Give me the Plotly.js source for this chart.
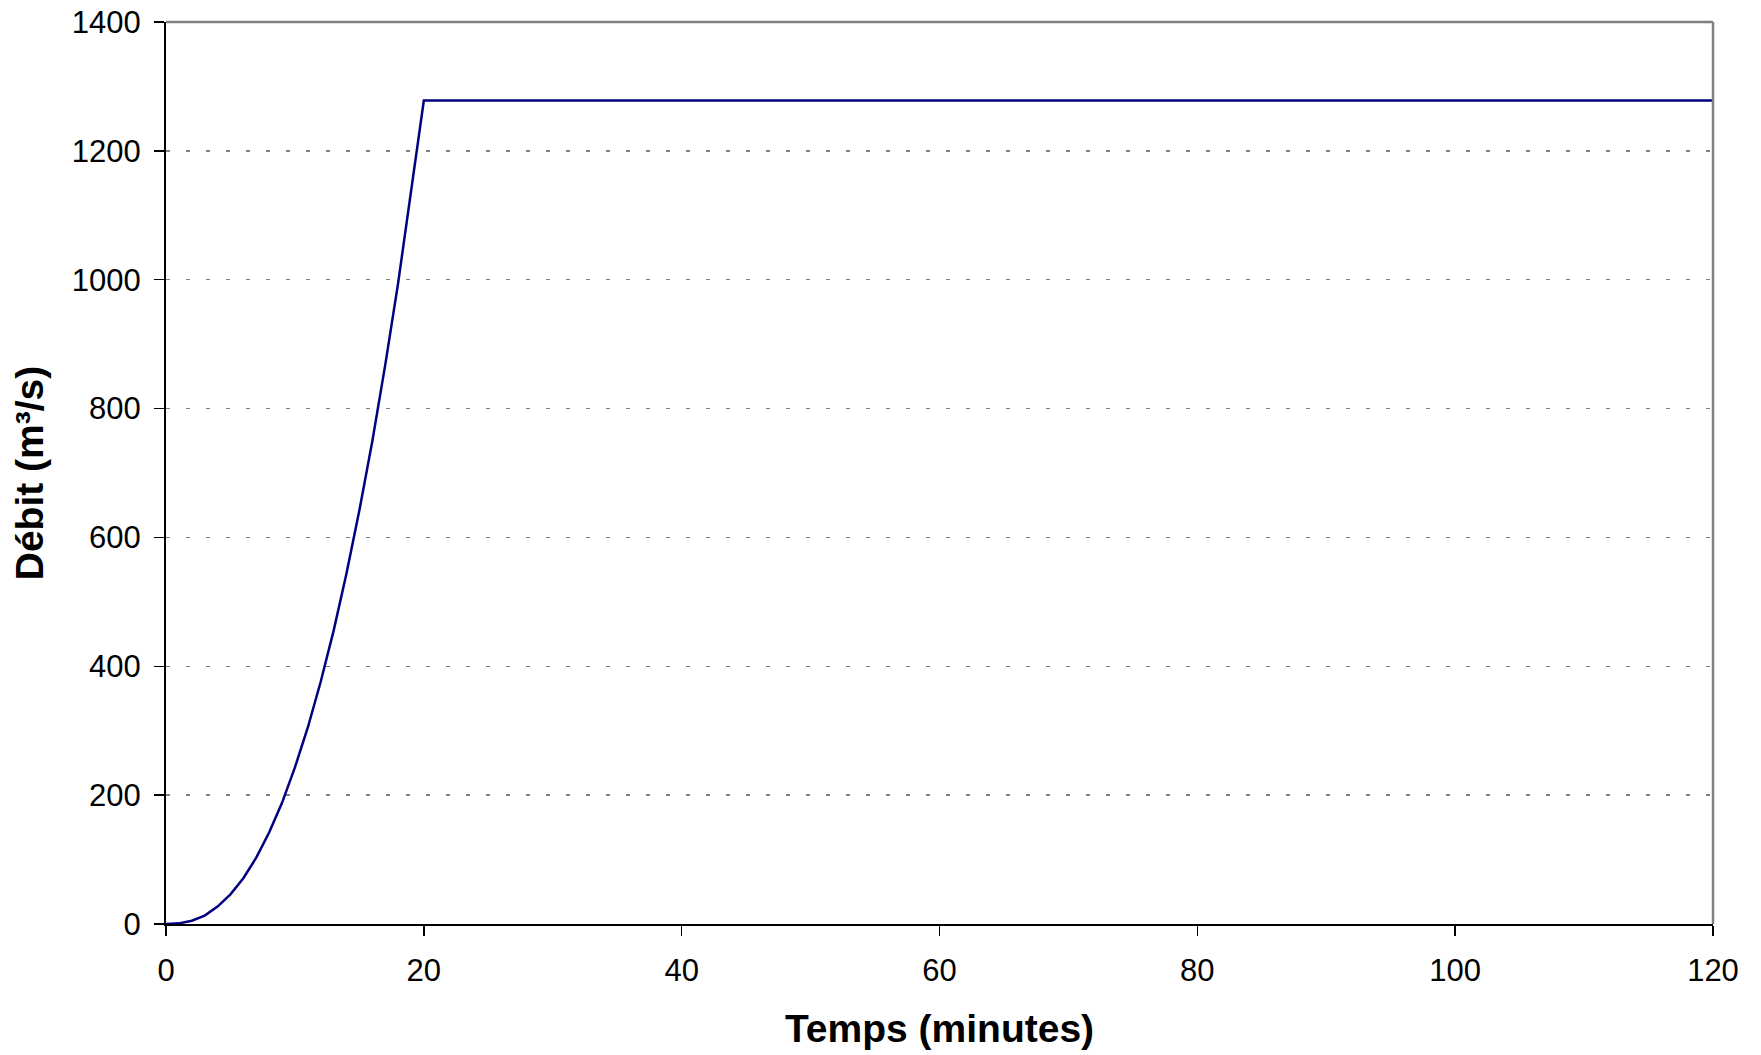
<!DOCTYPE html>
<html>
<head>
<meta charset="utf-8">
<script src="https://cdn.plot.ly/plotly-3.0.1.min.js"></script>
<style>
  html, body { margin: 0; padding: 0; background: #fff; }
  #chart { width: 1761px; height: 1055px; }
</style>
</head>
<body>
<div id="chart"></div>
<script>
// Time (minutes)
const timeMinutes = [0, 1, 2, 3, 4, 5, 6, 7, 8, 9, 10, 11, 12, 13, 14, 15, 16, 17, 18, 19, 20, 120];
// Discharge (m³/s)
const discharge = [0, 1, 5, 13, 27, 46, 71, 103, 142, 188, 243, 305, 376, 455, 544, 642, 749, 867, 994, 1132, 1278, 1278];

const xTicks = [0, 20, 40, 60, 80, 100, 120];
const yTicks = [0, 200, 400, 600, 800, 1000, 1200, 1400];

const xTitle = 'Temps (minutes)';
const yTitle = 'Débit (m³/s)';

const font = 'Liberation Sans, Arial, sans-serif';

const trace = {
  x: timeMinutes,
  y: discharge,
  type: 'scatter',
  mode: 'lines',
  line: { color: '#000080', width: 2.5 },
  hoverinfo: 'x+y'
};

const layout = {
  width: 1761,
  height: 1055,
  paper_bgcolor: '#ffffff',
  plot_bgcolor: '#ffffff',
  showlegend: false,
  margin: { l: 166, r: 48, t: 22, b: 131 },
  font: { family: font, color: '#000000', size: 31 },
  xaxis: {
    range: [0, 120],
    tickvals: xTicks,
    ticktext: xTicks.map(String),
    ticks: 'outside',
    ticklen: 10,
    tickwidth: 1.5,
    tickcolor: '#000000',
    showline: true,
    linecolor: '#000000',
    linewidth: 2,
    showgrid: false,
    zeroline: false,
    tickfont: { family: font, size: 31, color: '#000000' },
    ticklabelstandoff: 8,
    title: { text: xTitle, font: { family: font, size: 39, color: '#000000', weight: 'bold' }, standoff: 27 }
  },
  yaxis: {
    range: [0, 1400],
    tickvals: yTicks,
    ticktext: yTicks.map(String),
    ticks: 'outside',
    ticklen: 10,
    tickwidth: 1.5,
    tickcolor: '#000000',
    showline: true,
    linecolor: '#000000',
    linewidth: 2,
    showgrid: true,
    gridcolor: '#808080',
    gridwidth: 1.5,
    griddash: '4px,16px',
    zeroline: false,
    tickfont: { family: font, size: 31, color: '#000000' },
    ticklabelstandoff: 7,
    title: { text: yTitle, font: { family: font, size: 39, color: '#000000', weight: 'bold' }, standoff: 16 }
  },
  shapes: [
    { type: 'line', xref: 'paper', yref: 'paper', x0: 0, x1: 1, y0: 1, y1: 1, line: { color: '#808080', width: 2.5 } },
    { type: 'line', xref: 'paper', yref: 'paper', x0: 1, x1: 1, y0: 0, y1: 1, line: { color: '#808080', width: 2.5 } }
  ]
};

Plotly.newPlot('chart', [trace], layout, { displayModeBar: false, staticPlot: true });
</script>
</body>
</html>
